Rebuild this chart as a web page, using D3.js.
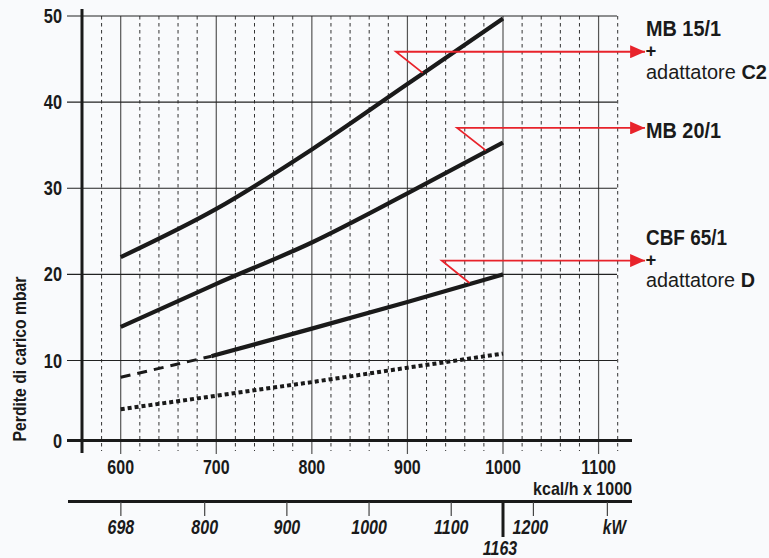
<!DOCTYPE html>
<html><head><meta charset="utf-8">
<script src="https://cdn.jsdelivr.net/npm/d3@7"></script>
<style>
html,body{margin:0;padding:0;background:#f9fafc;}
svg{display:block;}
text{font-family:'Liberation Sans',Arial,sans-serif;fill:#1a1a1a;}
</style></head>
<body><svg id="c" width="769" height="558"></svg>
<script>
// ---- data ----
const kcalTicks = [600, 700, 800, 900, 1000, 1100];
const kcalMinor = [580, 620, 640, 660, 680, 720, 740, 760, 780, 820, 840, 860, 880, 920, 940, 960, 980, 1020, 1040, 1060, 1080, 1120];
const yTicks = [0, 10, 20, 30, 40, 50];
const kwTicks = [698, 800, 900, 1000, 1100, 1200];
const kwMark = 1163;
const kwUnitPos = 1290;

const kcal = [600, 700, 800, 900, 1000];
const mb15 = [22.0, 27.6, 34.5, 42.1, 49.7];
const mb20 = [13.9, 18.9, 23.7, 29.4, 35.3];
const cbfSolidX = [695, 800, 900, 1000];
const cbfSolid = [10.5, 13.7, 16.8, 20.0];
const cbfDashX = [600, 695];
const cbfDash = [7.9, 10.5];
const dotted = [3.9, 5.6, 7.3, 9.1, 10.8];

// annotations
const annStartX = [888, 952, 936];
const annLevel = [45.85, 37.0, 21.6];
const annEndX = [916, 982, 965];
const annEndY = [43.4, 34.4, 19.0];

const svg = d3.select('#c');
const x = d3.scaleLinear().domain([600, 1000]).range([120.7, 503]);
const y = d3.scaleLinear().domain([0, 10, 50]).range([440.5, 360.5, 16]);
const xKw = v => x(v / 1.163);

const g = svg.append('g');

// text helper: condensed look via horizontal scaling
function T(px, py, parts, o) {
  const t = g.append('text')
    .attr('font-size', o.size)
    .attr('text-anchor', o.anchor || 'start');
  if (o.style) t.attr('font-style', o.style);
  parts.forEach(p => t.append('tspan').attr('font-weight', p[1] ? 'bold' : 'normal').text(p[0]));
  let k = o.k || 1;
  if (o.width) k = o.width / t.node().getComputedTextLength();
  const rot = o.rotate ? ' rotate(' + o.rotate + ')' : '';
  t.attr('transform', 'translate(' + px + ',' + py + ')' + rot + ' scale(' + k + ',1)');
  return t;
}

// vertical minor dashed gridlines
g.selectAll('.vmin').data(kcalMinor).join('line')
  .attr('x1', d => x(d)).attr('x2', d => x(d))
  .attr('y1', y(50)).attr('y2', 451)
  .attr('stroke', '#333').attr('stroke-width', 1).attr('stroke-dasharray', '3.5,3.5');
// vertical major
g.selectAll('.vmaj').data(kcalTicks).join('line')
  .attr('x1', d => x(d)).attr('x2', d => x(d))
  .attr('y1', y(50)).attr('y2', 454)
  .attr('stroke', '#555').attr('stroke-width', 1.2);
// horizontal grid
g.selectAll('.hg').data(yTicks.filter(d => d > 0)).join('line')
  .attr('x1', 67).attr('x2', 617)
  .attr('y1', d => y(d)).attr('y2', d => y(d))
  .attr('stroke', '#222').attr('stroke-width', 1.2);
// zero axis
g.append('line').attr('x1', 67).attr('x2', 632).attr('y1', y(0)).attr('y2', y(0))
  .attr('stroke', '#1a1a1a').attr('stroke-width', 3);
// left axis
g.append('line').attr('x1', 82).attr('x2', 82).attr('y1', 9).attr('y2', 453)
  .attr('stroke', '#1a1a1a').attr('stroke-width', 3);

// y tick labels
yTicks.forEach(d => T(62, y(d) + 7, [[String(d), 1]], {size: 19.5, anchor: 'end', k: 0.84}));
// x tick labels
kcalTicks.forEach(d => T(x(d), 473.5, [[String(d), 1]], {size: 19.5, anchor: 'middle', k: 0.82}));
T(632, 494.5, [['kcal/h x 1000', 1]], {size: 18, anchor: 'end', width: 99});

// y label
T(25.5, 359, [['Perdite di carico mbar', 1]], {size: 18, anchor: 'middle', rotate: -90, width: 165});

// kW axis
g.append('line').attr('x1', 68).attr('x2', 632).attr('y1', 501.5).attr('y2', 501.5)
  .attr('stroke', '#1a1a1a').attr('stroke-width', 3);
g.selectAll('.kt').data(kwTicks.concat([kwUnitPos])).join('line')
  .attr('x1', d => xKw(d)).attr('x2', d => xKw(d))
  .attr('y1', 502).attr('y2', 516).attr('stroke', '#444').attr('stroke-width', 1.2);
kwTicks.forEach(d => T(xKw(d) + (d === 1200 ? -3 : 0), 534, [[String(d), 1]],
  {size: 20, anchor: 'middle', style: 'italic', k: 0.8}));
T(xKw(kwUnitPos) + 7, 534, [['kW', 1]], {size: 20, anchor: 'middle', style: 'italic', width: 23});
g.append('line').attr('x1', xKw(kwMark)).attr('x2', xKw(kwMark))
  .attr('y1', 501).attr('y2', 537).attr('stroke', '#1a1a1a').attr('stroke-width', 3);
T(xKw(kwMark) - 3, 555, [[String(kwMark), 1]], {size: 20, anchor: 'middle', style: 'italic', k: 0.8});

// curves
const line = d3.line().x(d => x(d[0])).y(d => y(d[1])).curve(d3.curveMonotoneX);
const zip = (xs, ys) => xs.map((v, i) => [v, ys[i]]);
const curveStyle = sel => sel.attr('fill', 'none').attr('stroke', '#1a1a1a');
curveStyle(g.append('path').attr('d', line(zip(kcal, mb15))).attr('stroke-width', 4.2));
curveStyle(g.append('path').attr('d', line(zip(kcal, mb20))).attr('stroke-width', 4.2));
curveStyle(g.append('path').attr('d', line(zip(cbfSolidX, cbfSolid))).attr('stroke-width', 4.2));
curveStyle(g.append('path').attr('d', line(zip(cbfDashX, cbfDash))).attr('stroke-width', 3).attr('stroke-dasharray', '10,7'));
curveStyle(g.append('path').attr('d', d3.line().x(d => x(d[0])).y(d => y(d[1]))(zip(kcal, dotted)))
  .attr('stroke-width', 4).attr('stroke-dasharray', '4,3'));

// red annotation arrows
const red = '#e8232b';
svg.append('defs').append('marker').attr('id', 'ah').attr('viewBox', '0 0 16 14')
  .attr('refX', 16).attr('refY', 7).attr('markerWidth', 16).attr('markerHeight', 13)
  .attr('markerUnits', 'userSpaceOnUse').attr('orient', 'auto')
  .append('path').attr('d', 'M0,0 L16,7 L0,14 Z').attr('fill', red);
annStartX.forEach((sx, i) => {
  g.append('polyline')
    .attr('points', [[x(annEndX[i]), y(annEndY[i])], [x(sx), y(annLevel[i])], [645, y(annLevel[i])]].map(p => p.join(',')).join(' '))
    .attr('fill', 'none').attr('stroke', red).attr('stroke-width', 1.8)
    .attr('marker-end', 'url(#ah)');
});

// legend labels
T(646, 36, [['MB 15/1', 1]], {size: 22, width: 75});
T(645.5, 57, [['+', 1]], {size: 18.5, k: 1});
T(646, 78.5, [['adattatore ', 0], ['C2', 1]], {size: 19.5, width: 121});
T(646, 137.5, [['MB 20/1', 1]], {size: 22, width: 75});
T(646, 245, [['CBF 65/1', 1]], {size: 22, width: 81});
T(645.5, 266, [['+', 1]], {size: 18.5, k: 1});
T(646, 287, [['adattatore ', 0], ['D', 1]], {size: 19.5, width: 109});
</script></body></html>
